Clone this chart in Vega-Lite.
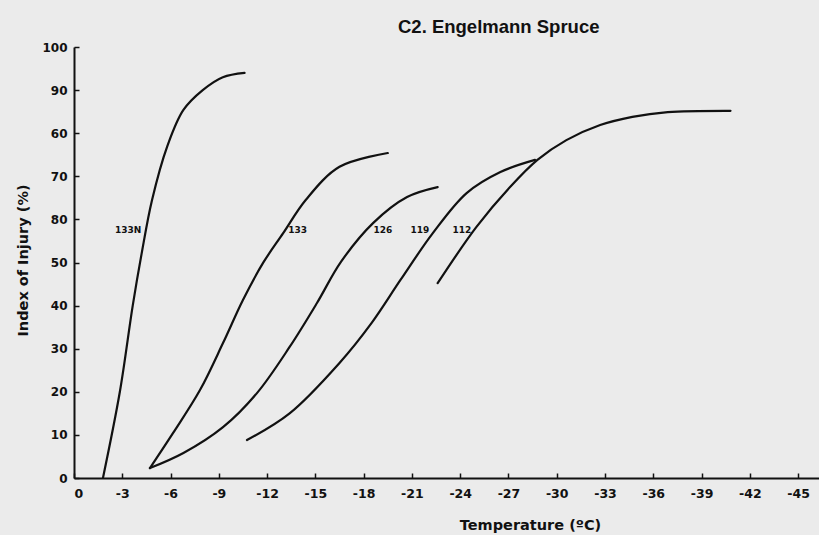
{
  "$schema": "https://vega.github.io/schema/vega-lite/v6.json",
  "autosize": "none",
  "width": 745,
  "height": 431,
  "padding": {"left": 74, "top": 47, "right": 0, "bottom": 57},
  "background": "#ebebeb",
  "config": {
    "view": {"stroke": null},
    "font": "DejaVu Sans"
  },
  "title": {
    "text": "C2.  Engelmann Spruce",
    "fontSize": 18.5,
    "fontWeight": "bold",
    "font": "Liberation Sans",
    "color": "#111",
    "anchor": "start",
    "frame": "group",
    "dx": 324,
    "offset": 5
  },
  "datasets": {
    "curves": [
      {"line": "133N", "temp": -1.8, "injury": 0},
      {"line": "133N", "temp": -2.85, "injury": 20},
      {"line": "133N", "temp": -3.65, "injury": 40},
      {"line": "133N", "temp": -4.2, "injury": 52},
      {"line": "133N", "temp": -4.85, "injury": 64.5},
      {"line": "133N", "temp": -5.8, "injury": 77},
      {"line": "133N", "temp": -6.8, "injury": 85.4},
      {"line": "133N", "temp": -8.0, "injury": 90},
      {"line": "133N", "temp": -9.25, "injury": 93},
      {"line": "133N", "temp": -10.6, "injury": 94},
      {"line": "133", "temp": -4.72, "injury": 2.3},
      {"line": "133", "temp": -6.15, "injury": 10.4},
      {"line": "133", "temp": -7.83, "injury": 20.4},
      {"line": "133", "temp": -9.26, "injury": 31.3},
      {"line": "133", "temp": -10.5, "injury": 41.3},
      {"line": "133", "temp": -11.75, "injury": 49.9},
      {"line": "133", "temp": -13.0, "injury": 56.8},
      {"line": "133", "temp": -14.4, "injury": 64.5},
      {"line": "133", "temp": -16.5, "injury": 72.2},
      {"line": "133", "temp": -19.5, "injury": 75.4},
      {"line": "126", "temp": -4.72, "injury": 2.3},
      {"line": "126", "temp": -6.8, "injury": 5.8},
      {"line": "126", "temp": -9.26, "injury": 11.8},
      {"line": "126", "temp": -11.37, "injury": 19.7},
      {"line": "126", "temp": -13.4, "injury": 30.4},
      {"line": "126", "temp": -15.1, "injury": 40.6},
      {"line": "126", "temp": -16.6, "injury": 50.2},
      {"line": "126", "temp": -18.6, "injury": 59.2},
      {"line": "126", "temp": -20.7, "injury": 65.2},
      {"line": "126", "temp": -22.6, "injury": 67.5},
      {"line": "119", "temp": -10.75, "injury": 8.8},
      {"line": "119", "temp": -13.4, "injury": 15},
      {"line": "119", "temp": -16.5, "injury": 26.7},
      {"line": "119", "temp": -18.5, "injury": 36},
      {"line": "119", "temp": -20.3, "injury": 46},
      {"line": "119", "temp": -22.3, "injury": 56.8},
      {"line": "119", "temp": -24.4, "injury": 66.1},
      {"line": "119", "temp": -26.5, "injury": 71},
      {"line": "119", "temp": -28.65, "injury": 73.8},
      {"line": "112", "temp": -22.6, "injury": 45.2},
      {"line": "112", "temp": -25.0, "injury": 58.2},
      {"line": "112", "temp": -27.1, "injury": 67.5},
      {"line": "112", "temp": -28.8, "injury": 73.8},
      {"line": "112", "temp": -30.6, "injury": 78.4},
      {"line": "112", "temp": -32.7, "injury": 81.9},
      {"line": "112", "temp": -34.7, "injury": 83.8},
      {"line": "112", "temp": -36.9, "injury": 84.9},
      {"line": "112", "temp": -40.8, "injury": 85.2}
    ],
    "labels": [
      {"line": "133N", "temp": -3.36, "injury": 57.5},
      {"line": "133", "temp": -13.9, "injury": 57.5},
      {"line": "126", "temp": -19.2, "injury": 57.5},
      {"line": "119", "temp": -21.5, "injury": 57.5},
      {"line": "112", "temp": -24.1, "injury": 57.5}
    ]
  },
  "layer": [
    {
      "data": {"name": "curves"},
      "mark": {"type": "line", "interpolate": "catmull-rom", "color": "#111", "strokeWidth": 2.2, "strokeCap": "round"},
      "encoding": {
        "x": {
          "field": "temp",
          "type": "quantitative",
          "scale": {"domain": [0, -46.3], "nice": false, "zero": false},
          "axis": {
            "values": [0, -3, -6, -9, -12, -15, -18, -21, -24, -27, -30, -33, -36, -39, -42, -45],
            "labelExpr": "datum.value == 0 ? '0' : '-' + abs(datum.value)",
            "title": "Temperature (ºC)",
            "titleFont": "DejaVu Sans",
            "titleFontSize": 14.5,
            "titleFontWeight": "bold",
            "titleColor": "#111",
            "titleX": 456,
            "titleY": 51,
            "titleBaseline": "alphabetic",
            "titleAnchor": "middle",
            "labelFont": "DejaVu Sans",
            "labelFontSize": 12.5,
            "labelFontWeight": "bold",
            "labelColor": "#111",
            "labelPadding": 14,
            "domainColor": "#111",
            "domainWidth": 2,
            "tickColor": "#111",
            "tickWidth": 1.5,
            "tickSize": -5,
            "grid": false
          }
        },
        "y": {
          "field": "injury",
          "type": "quantitative",
          "scale": {"domain": [0, 100], "nice": false},
          "axis": {
            "values": [0, 10, 20, 30, 40, 50, 60, 70, 80, 90, 100],
            "labelExpr": "datum.value == 60 ? '80' : datum.value == 80 ? '60' : datum.label",
            "title": "Index of Injury (%)",
            "titleFont": "DejaVu Sans",
            "titleFontSize": 14.5,
            "titleFontWeight": "bold",
            "titleColor": "#111",
            "titleX": -51,
            "titleY": 213,
            "titleBaseline": "middle",
            "titleAnchor": "middle",
            "labelFont": "DejaVu Sans",
            "labelFontSize": 12,
            "labelFontWeight": "bold",
            "labelColor": "#111",
            "labelPadding": 12,
            "domainColor": "#111",
            "domainWidth": 2,
            "tickColor": "#111",
            "tickWidth": 1.5,
            "tickSize": -5,
            "grid": false
          }
        },
        "detail": {"field": "line"},
        "order": {"field": "temp", "sort": "descending"}
      }
    },
    {
      "data": {"name": "labels"},
      "mark": {"type": "text", "font": "DejaVu Sans", "fontSize": 9, "fontWeight": "bold", "color": "#111"},
      "encoding": {
        "x": {"field": "temp", "type": "quantitative"},
        "y": {"field": "injury", "type": "quantitative"},
        "text": {"field": "line"}
      }
    }
  ]
}
